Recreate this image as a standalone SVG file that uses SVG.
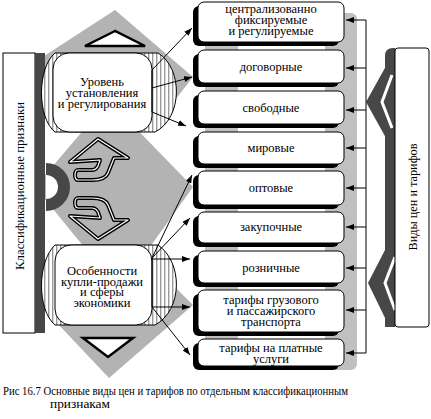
<svg xmlns="http://www.w3.org/2000/svg" width="431" height="419" viewBox="0 0 431 419" font-family="'Liberation Serif', 'DejaVu Serif', serif">
<defs>
<pattern id="hatch" width="4" height="4" patternUnits="userSpaceOnUse"><rect width="4" height="4" fill="#fff"/><rect width="1.4" height="4" fill="#9a9a9a"/></pattern>
<marker id="ah" viewBox="0 0 8 6" refX="8" refY="3" markerWidth="8" markerHeight="6" markerUnits="userSpaceOnUse" orient="auto"><path d="M0,0 L8,3 L0,6 Z" fill="#000"/></marker>
</defs>
<style>
text{font-family:'Liberation Serif','DejaVu Serif',serif;fill:#000}
.bt{font-size:12.5px;text-anchor:middle}
.dm{fill:#b3b3b3}
.tri{fill:#fff;stroke:#000;stroke-width:2.5;stroke-linejoin:miter}
.box{fill:#fff;stroke:#000;stroke-width:1}
.sh{fill:#000}
.bar{fill:#c0c0c0}
.dark{fill:#474747}
.barrel{fill:url(#hatch);stroke:#000;stroke-width:1}
.ln{stroke:#000;stroke-width:1;fill:none}
.ar{stroke:#000;stroke-width:1;fill:none;marker-end:url(#ah)}
.sq1{fill:none;stroke:#000;stroke-width:4;stroke-linejoin:round}
.sq2{fill:none;stroke:#fff;stroke-width:1.2;stroke-linejoin:round}
</style>
<rect width="431" height="419" fill="#fff"/>

<g id="background-diamonds">
<polygon class="dm" points="115,10 193,77 150,132 80,132 38,60"/>
<polygon class="dm" points="98,113 121,113 193,187 142,258 93,258 35,187"/>
<polygon class="dm" points="115,228 193,305 109,378 40,305"/>
<polygon class="tri" points="115,31 85,46 145,46"/>
<polygon class="tri" points="83,338 133,338 108,357"/>
<g id="double-arrow">
<path class="sq1" d="M70,162 L98,139 L128,158 L114,158 L108,173 C106,178 100,180 92,180 L78,180 C74,180 74,170 78,170 L92,170 C96,170 98,167 99,163 L100,160 Z"/>
<path class="sq2" d="M70,162 L98,139 L128,158 L114,158 L108,173 C106,178 100,180 92,180 L78,180 C74,180 74,170 78,170 L92,170 C96,170 98,167 99,163 L100,160 Z"/>
<g transform="translate(0,378) scale(1,-1)">
<path class="sq1" d="M70,162 L98,139 L128,158 L114,158 L108,173 C106,178 100,180 92,180 L78,180 C74,180 74,170 78,170 L92,170 C96,170 98,167 99,163 L100,160 Z"/>
<path class="sq2" d="M70,162 L98,139 L128,158 L114,158 L108,173 C106,178 100,180 92,180 L78,180 C74,180 74,170 78,170 L92,170 C96,170 98,167 99,163 L100,160 Z"/>
</g>
</g>
</g>

<g id="left-label">
<rect x="3" y="53" width="32" height="280" fill="#fff" stroke="#000"/>
<rect class="dark" x="35" y="53" width="10" height="280"/>
<path class="dark" d="M46,163 A24,24 0 0 1 46,211 Z"/>
<path d="M46,175 A12,12 0 0 1 46,199 Z" fill="#fff"/>
<text transform="translate(19,186) rotate(-90)" text-anchor="middle" dy="4.5" font-size="13.5" textLength="168" lengthAdjust="spacingAndGlyphs">Классификационные признаки</text>
</g>

<g id="level-node">
<path class="barrel" d="M55,53 C37,68 37,118 55,132 L155,132 C183,118 183,68 158,53 Z"/>
<rect x="53" y="53" width="99" height="79" rx="16" fill="#fff" stroke="#000"/>
<text class="bt" x="102" y="85.5">Уровень</text>
<text class="bt" x="102" y="96.5">установления</text>
<text class="bt" x="102" y="107.5">и регулирования</text>
</g>

<g id="features-node">
<path class="barrel" d="M55,245 C37,262 37,310 55,325 L155,325 C183,310 183,262 158,245 Z"/>
<rect x="55" y="245" width="97" height="80" rx="16" fill="#fff" stroke="#000"/>
<text class="bt" x="102" y="274.5">Особенности</text>
<text class="bt" x="102" y="285.5">купли-продажи</text>
<text class="bt" x="102" y="296">и сферы</text>
<text class="bt" x="102" y="306.5">экономики</text>
</g>

<g id="column-bars">
<rect class="bar" x="205" y="8" width="33" height="358"/>
<rect class="bar" x="325" y="13" width="32" height="357" rx="6"/>
</g>

<g id="box1"><rect class="sh" x="193" y="6" width="146" height="40" rx="6"/><rect class="box" x="198" y="2" width="146" height="40" rx="6"/>
<text class="bt" x="271" y="13">централизованно</text><text class="bt" x="271" y="24">фиксируемые</text><text class="bt" x="271" y="35">и регулируемые</text></g>
<g id="box2"><rect class="sh" x="193" y="54" width="146" height="33" rx="6"/><rect class="box" x="198" y="50" width="146" height="33" rx="6"/>
<text class="bt" x="271" y="71">договорные</text></g>
<g id="box3"><rect class="sh" x="193" y="95" width="146" height="33" rx="6"/><rect class="box" x="198" y="91" width="146" height="33" rx="6"/>
<text class="bt" x="271" y="112">свободные</text></g>
<g id="box4"><rect class="sh" x="193" y="136" width="146" height="32" rx="6"/><rect class="box" x="198" y="132" width="146" height="32" rx="6"/>
<text class="bt" x="271" y="152">мировые</text></g>
<g id="box5"><rect class="sh" x="193" y="175" width="146" height="34" rx="6"/><rect class="box" x="198" y="171" width="146" height="34" rx="6"/>
<text class="bt" x="271" y="192">оптовые</text></g>
<g id="box6"><rect class="sh" x="193" y="216" width="146" height="31" rx="6"/><rect class="box" x="198" y="212" width="146" height="31" rx="6"/>
<text class="bt" x="271" y="231">закупочные</text></g>
<g id="box7"><rect class="sh" x="193" y="255" width="146" height="32" rx="6"/><rect class="box" x="198" y="251" width="146" height="32" rx="6"/>
<text class="bt" x="271" y="272">розничные</text></g>
<g id="box8"><rect class="sh" x="193" y="294" width="146" height="42" rx="6"/><rect class="box" x="198" y="290" width="146" height="42" rx="6"/>
<text class="bt" x="271" y="304">тарифы грузового</text><text class="bt" x="271" y="315">и пассажирского</text><text class="bt" x="271" y="326">транспорта</text></g>
<g id="box9"><rect class="sh" x="193" y="343" width="146" height="27" rx="6"/><rect class="box" x="198" y="339" width="146" height="27" rx="6"/>
<text class="bt" x="271" y="352">тарифы на платные</text><text class="bt" x="271" y="362.5">услуги</text></g>

<g id="right-label">
<path class="dark" d="M385,56 Q385,48 393,48 L395,48 L395,327 L385,327 Z"/>
<polygon class="dark" points="386,66 366,102 386,138"/>
<polyline points="392,75 382,102 392,128" fill="none" stroke="#fff" stroke-width="3"/>
<polygon class="dark" points="386,248 368,283 386,320"/>
<polyline points="395,257 385,283 395,310" fill="none" stroke="#fff" stroke-width="3"/>
<rect x="395" y="48" width="34" height="279" rx="3" fill="#fff" stroke="#000"/>
<text transform="translate(412,197) rotate(-90)" text-anchor="middle" dy="4.5" font-size="13" textLength="107" lengthAdjust="spacingAndGlyphs">Виды цен и тарифов</text>
</g>

<g id="connectors">
<line class="ln" x1="152" y1="70" x2="152" y2="112"/>
<line class="ar" x1="152" y1="70" x2="192" y2="28"/>
<line class="ar" x1="152" y1="88" x2="192" y2="77"/>
<line class="ar" x1="152" y1="112" x2="186" y2="126"/>
<line class="ln" x1="152" y1="258" x2="152" y2="307"/>
<line class="ar" x1="152" y1="258" x2="192" y2="175"/>
<line class="ar" x1="152" y1="258" x2="190" y2="218"/>
<line class="ar" x1="152" y1="259" x2="190" y2="259"/>
<line class="ar" x1="152" y1="307" x2="190" y2="307"/>
<line class="ar" x1="152" y1="307" x2="190" y2="355"/>
<line class="ln" x1="366" y1="20" x2="366" y2="353"/>
<line class="ar" x1="366" y1="20" x2="346" y2="20"/>
<line class="ar" x1="366" y1="68" x2="346" y2="68"/>
<line class="ar" x1="366" y1="110" x2="346" y2="110"/>
<line class="ar" x1="366" y1="148" x2="346" y2="148"/>
<line class="ar" x1="366" y1="188" x2="346" y2="188"/>
<line class="ar" x1="366" y1="227" x2="346" y2="227"/>
<line class="ar" x1="366" y1="268" x2="346" y2="268"/>
<line class="ar" x1="366" y1="310" x2="346" y2="310"/>
<line class="ar" x1="366" y1="353" x2="346" y2="353"/>
</g>

<g id="caption">
<text x="3" y="395" font-size="11.5" textLength="345" lengthAdjust="spacingAndGlyphs">Рис 16.7 Основные виды цен и тарифов по отдельным классификационным</text>
<text x="50" y="408" font-size="11.5" textLength="60" lengthAdjust="spacingAndGlyphs">признакам</text>
</g>
</svg>
